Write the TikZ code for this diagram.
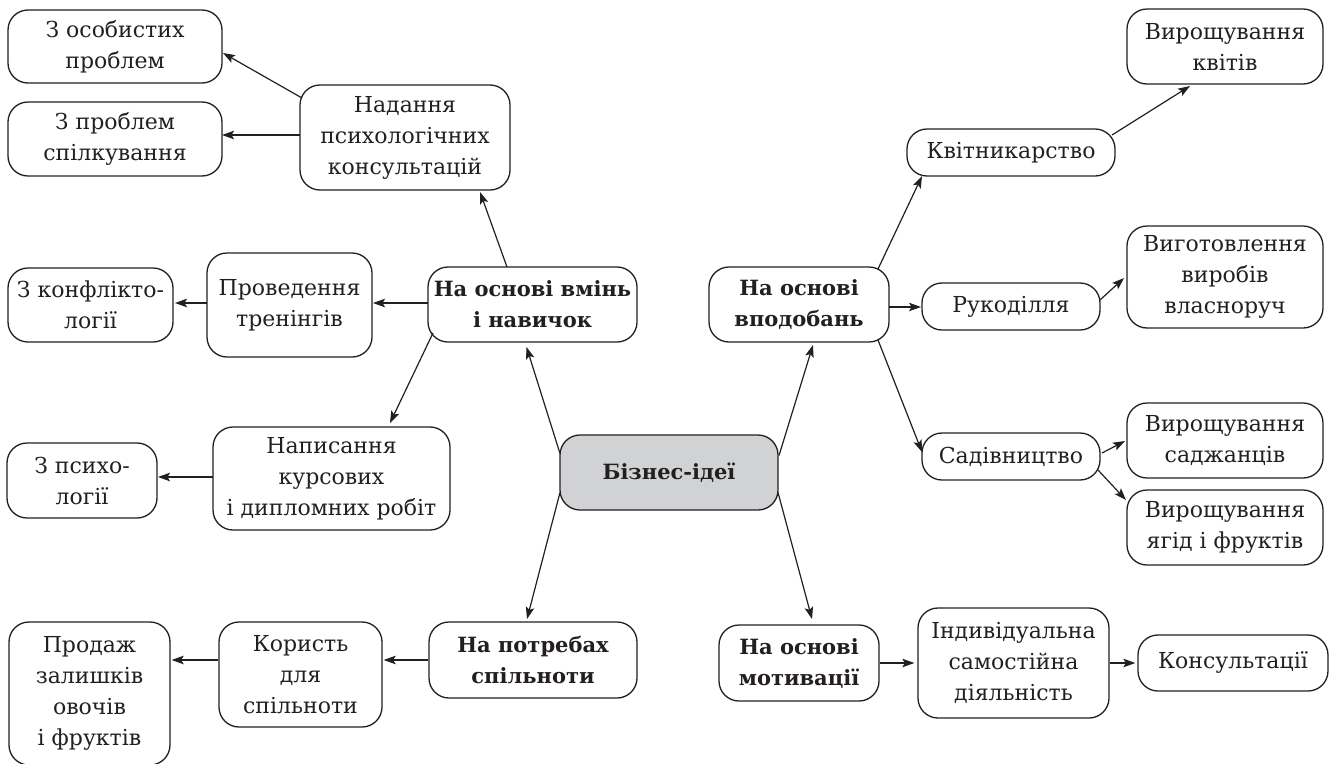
\documentclass[tikz,border=0pt]{standalone}
\usepackage{fontspec}
\setmainfont{DejaVu Serif}
\usetikzlibrary{arrows.meta,calc}
\definecolor{linec}{HTML}{231F20}
\definecolor{hubfill}{HTML}{D1D2D4}
\begin{document}
\begin{tikzpicture}[x=1pt,y=-1pt,
  box/.style={draw=linec, line width=1.3pt, rounded corners=20pt, align=center, inner sep=0pt,
              font=\fontsize{22}{31}\selectfont, text=linec},
  mainbox/.style={box, font=\fontsize{21}{31}\selectfont\bfseries},
  sz/.style 2 args={minimum width=#1pt, minimum height=#2pt},
  conn/.style={draw=linec, line width=1.2pt, -{Stealth[length=12pt,width=8.5pt,inset=2.5pt]}}
]
\useasboundingbox (0,0) rectangle (1330,763);

% left side
\node[box, sz={214}{73}] (A1) at (115,46.5) {З особистих\\проблем};
\node[box, sz={214}{74}] (A2) at (115,139) {З проблем\\спілкування};
\node[box, sz={210}{105}] (N1) at (405,137.5) {Надання\\психологічних\\консультацій};
\node[box, sz={165}{74}] (A3) at (90.5,305) {З конфлікто-\\логії};
\node[box, sz={165}{104}] (T) at (289.5,305) {Проведення\\тренінгів};
\node[mainbox, sz={209}{75}] (V) at (532.5,304.5) {На основі вмінь\\і навичок};
\node[box, sz={237}{103}] (W) at (331.5,478.5) {Написання\\курсових\\і дипломних робіт};
\node[box, sz={150}{75}] (A4) at (82,480.5) {З психо-\\логії};

% centre
\node[mainbox, fill=hubfill, sz={218}{75}] (C) at (669,472.5) {Бізнес-ідеї};

% bottom
\node[box, sz={161}{143}] (PR) at (89.5,693.5) {Продаж\\залишків\\овочів\\і фруктів};
\node[box, sz={163}{105}] (K) at (300.5,674.5) {Користь\\для\\спільноти};
\node[mainbox, sz={208}{76}] (NP) at (533,660) {На потребах\\спільноти};
\node[mainbox, sz={160}{76}] (NOM) at (799,663) {На основі\\мотивації};
\node[box, sz={191}{110}] (IND) at (1013.5,663) {Індивідуальна\\самостійна\\діяльність};
\node[box, sz={190}{56}] (KON) at (1233,663) {Консультації};

% right side
\node[box, sz={196}{75}] (VK) at (1225,46.5) {Вирощування\\квітів};
\node[box, sz={208}{47}] (KV) at (1011,152.5) {Квітникарство};
\node[mainbox, sz={180}{75}] (NOV) at (799,304.5) {На основі\\вподобань};
\node[box, sz={178}{47}] (RUK) at (1011,306.5) {Рукоділля};
\node[box, sz={196}{102}] (VYG) at (1225,277) {Виготовлення\\виробів\\власноруч};
\node[box, sz={178}{47}] (SAD) at (1011,456.5) {Садівництво};
\node[box, sz={196}{75}] (VS) at (1225,440.5) {Вирощування\\саджанців};
\node[box, sz={196}{75}] (VYA) at (1225,527.5) {Вирощування\\ягід і фруктів};

% connectors from the centre
\draw[conn] ($(C)+(-109,-19)$) -- ($(V)+(-6,42.5)$);
\draw[conn] ($(C)+(110,-17)$) -- ($(NOV)+(14,40.5)$);
\draw[conn] ($(C)+(-109,20)$) -- ($(NP)+(-6,-41)$);
\draw[conn] ($(C)+(109,20)$) -- ($(NOM)+(13,-44)$);

% left branch
\draw[conn] ($(V)+(-25.5,-37.5)$) -- ($(N1)+(75,54.5)$);
\draw[conn] ($(V)+(-104.5,-1.5)$) -- ($(T)+(83.5,-2)$);
\draw[conn] ($(V)+(-99.5,28.5)$) -- ($(W)+(58.5,-55.5)$);
\draw[conn] ($(N1)+(-103,-39.5)$) -- ($(A1)+(108,6.5)$);
\draw[conn] ($(N1)+(-105,-2.5)$) -- ($(A2)+(107,-4)$);
\draw[conn] ($(T)+(-82.5,-2)$) -- ($(A3)+(84.5,-2)$);
\draw[conn] ($(W)+(-118.5,-1.5)$) -- ($(A4)+(76,-3.5)$);

% bottom branch
\draw[conn] (NP.west) -- ($(K.east)+(1,-14.5)$);
\draw[conn] ($(K.west)+(0,-14.5)$) -- ($(PR.east)+(1,-33.5)$);
\draw[conn] (NOM.east) -- ($(IND.west)+(-3,0)$);
\draw[conn] (IND.east) -- ($(KON.west)+(-2,0)$);

% right branch
\draw[conn] ($(NOV)+(79,-35.5)$) -- ($(KV)+(-89,23.5)$);
\draw[conn] ($(KV)+(101,-17.5)$) -- ($(VK)+(-35,39.5)$);
\draw[conn] ($(NOV)+(90,2.5)$) -- ($(RUK)+(-90,0.5)$);
\draw[conn] ($(RUK)+(89,-6.5)$) -- ($(VYG)+(-101,1)$);
\draw[conn] ($(NOV)+(79,35.5)$) -- ($(SAD)+(-89,-4.5)$);
\draw[conn] ($(SAD)+(91,-3.5)$) -- ($(VS)+(-100,0.5)$);
\draw[conn] ($(SAD)+(87,13.5)$) -- ($(VYA)+(-99,-27.5)$);
\end{tikzpicture}
\end{document}
